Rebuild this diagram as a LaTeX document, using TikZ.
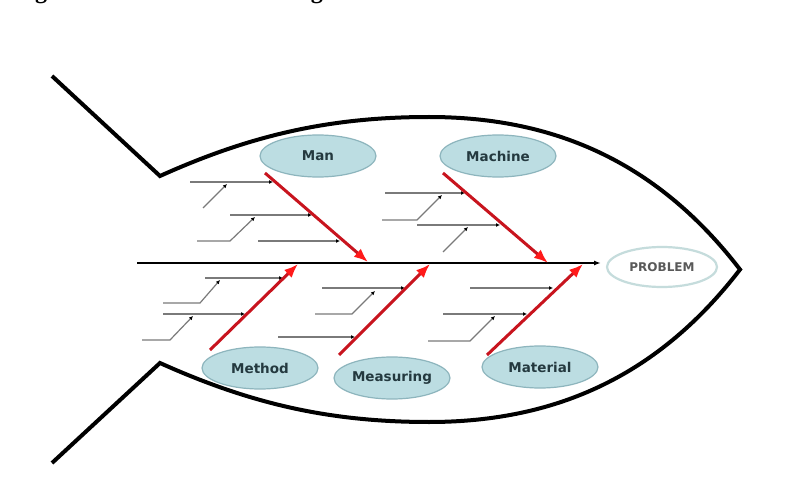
\documentclass[tikz,border=0pt]{standalone}
\usepackage{fontspec}
\setmainfont{Liberation Serif}
\newfontfamily\labelfont{DejaVu Sans}
\usetikzlibrary{shapes.geometric,arrows.meta}
\definecolor{causefill}{HTML}{BCDDE2}
\definecolor{causeedge}{HTML}{8DB5BD}
\definecolor{causetext}{HTML}{24393F}
\definecolor{probedge}{HTML}{C5DCDC}
\definecolor{branchred}{HTML}{C8141E}
\definecolor{headred}{HTML}{FF1A1A}
\definecolor{subgray}{HTML}{7A7A7A}
\begin{document}
\begin{tikzpicture}[x=1pt,y=-1pt,
  cause/.style={ellipse,draw=causeedge,line width=1.2pt,fill=causefill,
    minimum width=116pt,minimum height=42pt,inner sep=0pt,
    font=\labelfont\bfseries\fontsize{13.5}{14}\selectfont,text=causetext},
  problem/.style={ellipse,draw=probedge,line width=2.2pt,fill=white,
    minimum width=110pt,minimum height=40pt,inner sep=0pt,
    font=\labelfont\bfseries\fontsize{12}{13}\selectfont,text=black!65},
  outline/.style={draw=black,line width=4pt,line join=miter},
  spine/.style={draw=black,line width=1.8pt,-{Latex[length=7pt,width=5pt]}},
  bone/.style={draw=branchred,line width=3pt,
    -{Latex[length=14pt,width=11pt,color=headred]}},
  twig/.style={draw=subgray,line width=1.2pt,
    -{Latex[length=4pt,width=4pt,color=black]}}]
\useasboundingbox (0,0) rectangle (804,500);
\fill[white] (0,0) rectangle (804,500);

% caption (cut off by the top edge, as in the reference)
\node[anchor=base west,inner sep=0pt,font=\bfseries\fontsize{24}{24}\selectfont] (caption) at (13.7,-1.2) {Figure 2.1: The Fishbone diagram};

% fish outline
\draw[outline] (52,76) -- (160,176)
  .. controls (250,135.5) and (329,117) .. (429,117)
  .. controls (559,117) and (660,165.5) .. (740,269.5)
  .. controls (660,373.5) and (559,422) .. (429,422)
  .. controls (329,422) and (250,403.5) .. (160,363) -- (52,463);

% spine and problem
\node[problem] (problem) at (662,267) {PROBLEM};
\coordinate (spineL) at (137,263);
\coordinate (spineR) at (601,263);
\draw[spine] (spineL) -- (spineR);

% causes
\node[cause] (man) at (318,156) {Man};
\node[cause] (machine) at (498,156) {Machine};
\node[cause] (method) at (260,368) {Method};
\node[cause] (measuring) at (392,378) {Measuring};
\node[cause] (material) at (540,367) {Material};

% sub-causes: Man
\draw[twig] (190,182) -- (273,182);
\draw[twig] (203,208) -- (227,184);
\draw[twig] (230,215) -- (312,215);
\draw[twig] (197,241) -- (230,241) -- (255,217);
\draw[twig] (258,241) -- (340,241);
% Machine
\draw[twig] (385,193) -- (465,193);
\draw[twig] (382,220) -- (417,220) -- (442,195);
\draw[twig] (417,225) -- (500,225);
\draw[twig] (443,252) -- (468,227);
% Method
\draw[twig] (205,278) -- (283,278);
\draw[twig] (163,303) -- (200,303) -- (220,280);
\draw[twig] (163,314) -- (245,314);
\draw[twig] (142,340) -- (170,340) -- (193,316);
% Measuring
\draw[twig] (322,288) -- (405,288);
\draw[twig] (315,314) -- (352,314) -- (375,291);
\draw[twig] (278,337) -- (355,337);
% Material
\draw[twig] (470,288) -- (553,288);
\draw[twig] (443,314) -- (527,314);
\draw[twig] (428,341) -- (470,341) -- (495,316);

% main bones
\coordinate (manS) at (265,173);   \coordinate (manE) at (368,262);
\coordinate (macS) at (443,173);   \coordinate (macE) at (548,263);
\coordinate (metS) at (210,350);   \coordinate (metE) at (298,264);
\coordinate (measS) at (339,355);  \coordinate (measE) at (430,264);
\coordinate (matS) at (487,355);   \coordinate (matE) at (583,264);
\draw[bone] (manS) -- (manE);
\draw[bone] (macS) -- (macE);
\draw[bone] (metS) -- (metE);
\draw[bone] (measS) -- (measE);
\draw[bone] (matS) -- (matE);
\end{tikzpicture}
\end{document}
